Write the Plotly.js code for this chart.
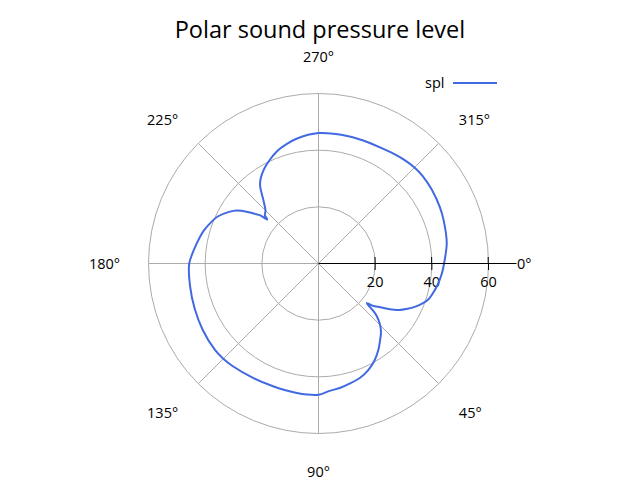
<!DOCTYPE html>
<html>
<head>
<meta charset="utf-8">
<script src="https://cdn.plot.ly/plotly-3.0.1.min.js"></script>
<style>html,body{margin:0;padding:0;background:#fff;}#chart{width:640px;height:480px;}</style>
</head>
<body>
<div id="chart"></div>
<script>
// angle (degrees, clockwise from 0 at right) and sound pressure level
const angles = [0, 5, 10, 15, 18, 21, 24, 27, 30, 33, 36, 37.6, 39.4, 40.6, 42, 45, 48, 52, 55, 60, 65, 70, 75, 80, 85,
  90, 95, 100, 105, 110, 120, 130, 135, 140, 150, 160, 170, 180, 190, 196, 200, 205, 210, 213, 216, 218, 219.6, 220.6,
  222, 225, 229, 233, 236, 240, 243, 250, 255, 260, 270, 280, 290, 300, 305, 310, 315, 320, 327, 335, 341, 351, 360];
const spl = [44.4, 43.7, 42.8, 41.7, 40.9, 39.4, 37.5, 35.3, 32.9, 29.5, 26.0, 24.6, 22.1, 24.9, 27.7, 30.8, 33.0, 35.2, 37.0, 39.6, 41.6, 43.0, 43.8, 44.6, 45.2,
  46.4, 46.5, 46.4, 46.3, 46.3, 46.6, 47.3, 47.6, 47.7, 47.2, 46.6, 46.1, 45.7, 43.5, 42.2, 41.0, 39.3, 36.5, 34.4, 31.0, 28.5, 26.7, 23.9,
  25.5, 26.5, 29.7, 34.3, 36.5, 38.5, 39.8, 42.4, 43.7, 44.8, 46.1, 46.2, 46.3, 46.6, 47.1, 47.6, 48.0, 48.1, 47.8, 47.3, 46.8, 45.9, 44.4];
const radialTicks = [20, 40, 60];
const seriesName = 'spl';
const chartTitle = 'Polar sound pressure level';

const FONT = '"Open Sans", "Noto Sans", sans-serif';
const BLUE = '#4169e1';
const GRID = '#ababab';

const traces = [
  { type: 'scatterpolar', mode: 'lines', r: spl, theta: angles, subplot: 'polar',
    line: { color: 'rgba(0,0,0,0)', width: 2 }, showlegend: false, hoverinfo: 'skip' },
  { type: 'scatterpolar', mode: 'lines', r: spl, theta: angles, subplot: 'polar2', name: seriesName,
    line: { color: BLUE, width: 2, shape: 'spline', smoothing: 0.8 }, showlegend: false }
];

const layout = {
  width: 640, height: 480,
  margin: { l: 0, r: 0, t: 0, b: 0 },
  paper_bgcolor: '#fff',
  font: { family: FONT, size: 14, color: '#000' },
  title: { text: chartTitle, x: 0.5, xanchor: 'center', y: 0.938, yanchor: 'middle',
    font: { family: FONT, size: 23.5, color: '#000' } },
  showlegend: false,
  polar: {
    domain: { x: [148.5/640, 488.5/640], y: [46.5/480, 386.5/480] },
    bgcolor: 'rgba(0,0,0,0)',
    radialaxis: { range: [0, 60], tickvals: radialTicks, ticks: 'outside', ticklen: 6, tickcolor: '#000',
      showline: false, showgrid: true, gridcolor: GRID, gridwidth: 1, angle: 0, side: 'clockwise',
      tickfont: { family: FONT, size: 14.5, color: '#000' } },
    angularaxis: { direction: 'clockwise', rotation: 0, dtick: 45, showticklabels: false, ticks: '',
      showline: true, linecolor: GRID, linewidth: 1, showgrid: true, gridcolor: GRID, gridwidth: 1 }
  },
  polar2: {
    domain: { x: [120.5/640, 516.5/640], y: [18.5/480, 414.5/480] },
    bgcolor: 'rgba(0,0,0,0)',
    radialaxis: { range: [0, 70], tickvals: radialTicks, ticks: 'inside', ticklen: 6, tickcolor: '#000',
      showline: true, linecolor: '#000', linewidth: 1, showgrid: false, showticklabels: false, angle: 0, side: 'clockwise' },
    angularaxis: { direction: 'clockwise', rotation: 0, dtick: 45, showticklabels: true, ticks: '',
      showline: false, showgrid: false, tickfont: { family: FONT, size: 14.5, color: '#000' } }
  },
  annotations: [
    { text: seriesName, xref: 'paper', yref: 'paper', x: 446/640, y: 1 - 82/480, xanchor: 'right', yanchor: 'middle',
      showarrow: false, font: { family: FONT, size: 14.5, color: '#000' } }
  ],
  shapes: [
    { type: 'line', xref: 'paper', yref: 'paper', x0: 453/640, x1: 497/640, y0: 1 - 83/480, y1: 1 - 83/480,
      line: { color: BLUE, width: 2 } }
  ]
};

Plotly.newPlot('chart', traces, layout, { staticPlot: true, displayModeBar: false });
</script>
</body>
</html>
